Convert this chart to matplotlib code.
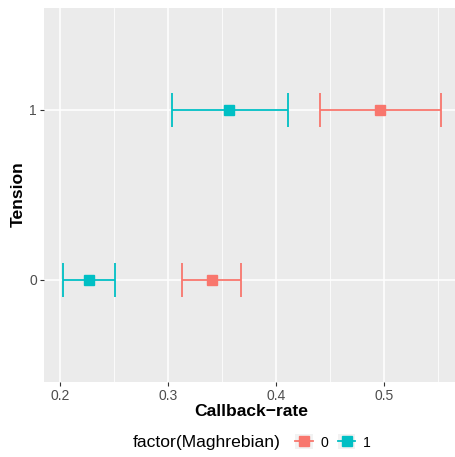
import matplotlib
matplotlib.use("Agg")
import matplotlib.pyplot as plt
from matplotlib.patches import Rectangle
from matplotlib.lines import Line2D
from matplotlib.legend_handler import HandlerTuple
from matplotlib.ticker import MultipleLocator

# ---------- data ----------
groups = ["0", "1"]                      # factor(Maghrebian)
colors = ["#F8766D", "#00BFC4"]
tension = [0, 1]                         # y categories
# callback-rate: mean, lower, upper for each group, per tension level
rate_mean = {"0": [0.341, 0.497], "1": [0.227, 0.357]}
rate_lo   = {"0": [0.313, 0.441], "1": [0.203, 0.3035]}
rate_hi   = {"0": [0.368, 0.553], "1": [0.251, 0.411]}

plt.rcParams["font.family"] = ["Liberation Sans", "DejaVu Sans"]

fig = plt.figure(figsize=(4.56, 4.57), dpi=100)
W, H = 456, 457
ax = fig.add_axes([44 / W, 75.3 / H, (459.5 - 44) / W, (381.7 - 7.5) / H])
ax.set_facecolor("#EBEBEB")
for s in ax.spines.values():
    s.set_visible(False)

# grid
ax.xaxis.set_major_locator(MultipleLocator(0.1))
ax.xaxis.set_minor_locator(MultipleLocator(0.05))
ax.grid(True, which="major", color="white", linewidth=1.1, zorder=0)
ax.grid(True, which="minor", axis="x", color="white", linewidth=0.55, zorder=0)
ax.set_axisbelow(True)

for g, c in zip(groups, colors):
    m = rate_mean[g]
    err = [[mi - lo for mi, lo in zip(m, rate_lo[g])],
           [hi - mi for mi, hi in zip(m, rate_hi[g])]]
    ax.errorbar(m, tension, xerr=err, fmt="s", color=c, ecolor=c,
                elinewidth=1.3, capsize=12, capthick=1.3, markersize=6.5,
                zorder=3)

ax.set_xlim(0.1853, 0.5703)
ax.set_ylim(-0.6, 1.6)
ax.set_yticks(tension)
ax.set_yticklabels([str(t) for t in tension])
ax.set_xticks([0.2, 0.3, 0.4, 0.5])
ax.set_xticklabels(["0.2", "0.3", "0.4", "0.5"])
ax.tick_params(axis="both", which="major", length=3.2, width=0.8, color="#333333",
               labelsize=10, labelcolor="#4D4D4D", pad=2)
ax.tick_params(axis="x", which="minor", length=0)

ax.set_xlabel("Callback\u2212rate", fontsize=12.6, fontweight="bold", labelpad=1)
ax.set_ylabel("Tension", fontsize=12.6, fontweight="bold", labelpad=2)

# legend at bottom, title on the left
fig.text(133 / W, (H - 442) / H, "factor(Maghrebian)", fontsize=12.6,
         ha="left", va="center")
handles = []
for c in colors:
    bg = Rectangle((0, 0), 1, 1, facecolor="#F2F2F2", edgecolor="none")
    ln = Line2D([], [], color=c, marker="s", markersize=6.5, linewidth=1.3)
    handles.append((bg, ln))
fig.legend(handles, groups, handler_map={tuple: HandlerTuple(ndivide=1)},
           loc="center left", bbox_to_anchor=(295 / W, (H - 442) / H),
           ncol=2, frameon=False, fontsize=10.1, borderpad=0, borderaxespad=0,
           handlelength=1.25, handleheight=1.25, handletextpad=0.55,
           columnspacing=0.7)

fig.savefig("out.png", dpi=100)
